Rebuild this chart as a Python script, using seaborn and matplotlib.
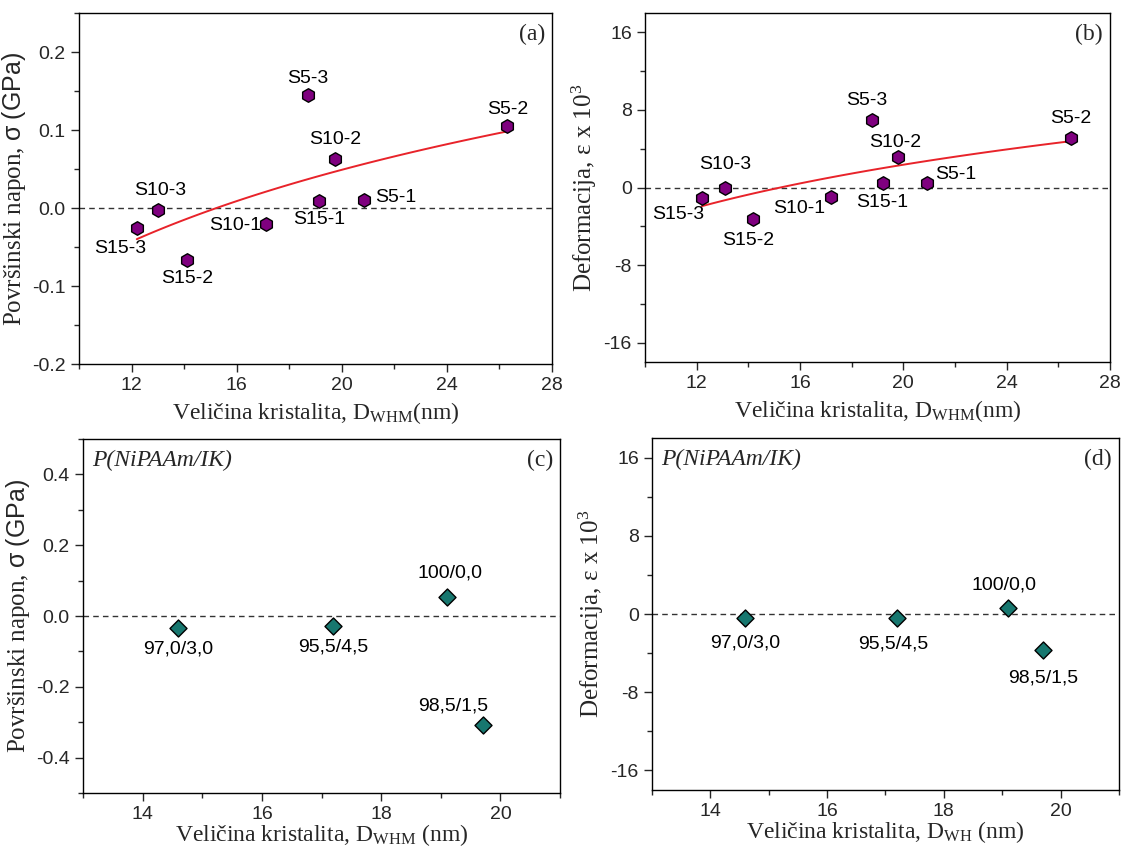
import numpy as np
import pandas as pd
import matplotlib
matplotlib.use('Agg')
import matplotlib.pyplot as plt
from matplotlib.ticker import MultipleLocator, FormatStrFormatter
import seaborn as sns

# Podaci ocitani sa slike
uzorci = ['S15-3', 'S10-3', 'S15-2', 'S10-1', 'S5-3', 'S15-1', 'S10-2', 'S5-1', 'S5-2']
d_whm_a = [12.2, 13.0, 14.1, 17.1, 18.7, 19.15, 19.75, 20.85, 26.3]
napon_a = [-0.025, -0.002, -0.067, -0.020, 0.145, 0.009, 0.063, 0.010, 0.105]
d_whm_b = [12.2, 13.1, 14.2, 17.2, 18.8, 19.2, 19.8, 20.9, 26.5]
deform_b = [-1.1, -0.1, -3.2, -1.0, 7.0, 0.5, 3.1, 0.5, 5.1]

sastavi = ['97,0/3,0', '95,5/4,5', '100/0,0', '98,5/1,5']
d_c = [14.6, 17.2, 19.1, 19.7]
napon_c = [-0.033, -0.029, 0.054, -0.309]
d_d = [14.6, 17.2, 19.1, 19.7]
deform_d = [-0.4, -0.4, 0.6, -3.7]

# pomeraji natpisa (pt) i poravnanje
off_a = [(-12, -15, 'center'), (2, 14, 'center'), (0, -13, 'center'), (-3, -1, 'right'),
         (0, 12, 'center'), (0, -13, 'center'), (0, 14, 'center'), (8, 2, 'left'), (0, 12, 'center')]
off_b = [(-17, -12, 'center'), (0, 17, 'center'), (-4, -16, 'center'), (-4, -8, 'right'),
         (-4, 14, 'center'), (0, -14, 'center'), (-2, 11, 'center'), (6, 6, 'left'), (0, 14, 'center')]
off_c = [(0, -15, 'center'), (0, -15, 'center'), (2, 17, 'center'), (-21, 14, 'center')]
off_d = [(0, -18, 'center'), (-3, -19, 'center'), (-3, 17, 'center'), (0, -20, 'center')]

sns.set_style('ticks')
plt.rcParams['font.family'] = ['Liberation Sans', 'DejaVu Sans']
plt.rcParams['mathtext.fontset'] = 'custom'
plt.rcParams['mathtext.rm'] = 'Liberation Serif'
plt.rcParams['mathtext.sf'] = 'Liberation Sans'
plt.rcParams['mathtext.it'] = 'Liberation Serif:italic'
plt.rcParams['axes.edgecolor'] = 'black'
plt.rcParams['axes.linewidth'] = 1.0
plt.rcParams['axes.unicode_minus'] = False

ljubicasta = '#7f007f'
tirkizna = '#17776f'
serif = ['Liberation Serif', 'DejaVu Serif']

fig = plt.figure(figsize=(11.28, 8.46), dpi=100)
ax_a = fig.add_axes([0.0700, 0.5697, 0.4193, 0.4149])
ax_b = fig.add_axes([0.5718, 0.5721, 0.4122, 0.4125])
ax_c = fig.add_axes([0.0736, 0.0626, 0.4229, 0.4184])
ax_d = fig.add_axes([0.5780, 0.0662, 0.4140, 0.4160])


def oznaci(ax, xs, ys, names, offs):
    for x, y, n, (dx, dy, ha) in zip(xs, ys, names, offs):
        ax.annotate(n, (x, y), xytext=(dx, dy), textcoords='offset points',
                    ha=ha, va='center', fontsize=14, color='black')


def uredi(ax, xlim, ylim, xmaj, xmin, ymaj, ymin, xlabel, ylabel, slovo):
    ax.set_xlim(*xlim)
    ax.set_ylim(*ylim)
    ax.xaxis.set_major_locator(MultipleLocator(xmaj))
    ax.xaxis.set_minor_locator(MultipleLocator(xmin))
    ax.yaxis.set_major_locator(MultipleLocator(ymaj))
    ax.yaxis.set_minor_locator(MultipleLocator(ymin))
    ax.tick_params(which='major', direction='out', length=6, width=1, labelsize=14,
                   top=False, right=False)
    ax.tick_params(which='minor', direction='out', length=3.5, width=1, top=False, right=False)
    for s in ax.spines.values():
        s.set_visible(True)
        s.set_color('black')
    ax.axhline(0, color='#333333', lw=1.0, ls=(0, (4, 3)), zorder=1)
    ax.set_xlabel(xlabel, fontsize=17, family=serif, labelpad=4)
    ax.set_ylabel(ylabel, fontsize=18, family=serif, labelpad=3)
    ax.text(0.985, 0.97, slovo, transform=ax.transAxes, ha='right', va='top',
            fontsize=17, family=serif)


xlab_whm = r'Veličina kristalita, D$_{\mathrm{WHM}}$(nm)'
ylab_napon = r'Površinski napon, $\mathsf{σ\ (GPa)}$'
ylab_def = r'Deformacija, ε x 10$^{3}$'

# (a)
sns.regplot(x=d_whm_a, y=napon_a, logx=True, ci=None, scatter=False, ax=ax_a,
            line_kws=dict(color='#e8232a', lw=1.4, zorder=2))
sns.scatterplot(x=d_whm_a, y=napon_a, marker='h', s=95, color=ljubicasta,
                edgecolor='black', linewidth=1.0, ax=ax_a, zorder=3)
oznaci(ax_a, d_whm_a, napon_a, uzorci, off_a)
uredi(ax_a, (10, 28), (-0.2, 0.25), 4, 2, 0.1, 0.05, xlab_whm, ylab_napon, '(a)')
ax_a.yaxis.set_major_formatter(FormatStrFormatter('%.1f'))

# (b)
sns.regplot(x=d_whm_b, y=deform_b, logx=True, ci=None, scatter=False, ax=ax_b,
            line_kws=dict(color='#e8232a', lw=1.4, zorder=2))
sns.scatterplot(x=d_whm_b, y=deform_b, marker='h', s=95, color=ljubicasta,
                edgecolor='black', linewidth=1.0, ax=ax_b, zorder=3)
oznaci(ax_b, d_whm_b, deform_b, uzorci, off_b)
uredi(ax_b, (10, 28), (-18, 18), 4, 2, 8, 4, xlab_whm, ylab_def, '(b)')

# (c)
sns.scatterplot(x=d_c, y=napon_c, marker='D', s=75, color=tirkizna,
                edgecolor='black', linewidth=1.0, ax=ax_c, zorder=3)
oznaci(ax_c, d_c, napon_c, sastavi, off_c)
uredi(ax_c, (13, 21), (-0.5, 0.5), 2, 1, 0.2, 0.1,
      r'Veličina kristalita, D$_{\mathrm{WHM}}$ (nm)', ylab_napon, '(c)')
ax_c.yaxis.set_major_formatter(FormatStrFormatter('%.1f'))
ax_c.xaxis.labelpad = -1

# (d)
sns.scatterplot(x=d_d, y=deform_d, marker='D', s=75, color=tirkizna,
                edgecolor='black', linewidth=1.0, ax=ax_d, zorder=3)
oznaci(ax_d, d_d, deform_d, sastavi, off_d)
uredi(ax_d, (13, 21), (-18, 18), 2, 1, 8, 4,
      r'Veličina kristalita, D$_{\mathrm{WH}}$ (nm)', ylab_def, '(d)')
ax_d.xaxis.labelpad = -1

for ax in (ax_c, ax_d):
    ax.text(0.02, 0.97, 'P(NiPAAm/IK)', transform=ax.transAxes, ha='left', va='top',
            fontsize=17, family=serif, style='italic')

fig.savefig('out.png', dpi=100)
plt.close(fig)
